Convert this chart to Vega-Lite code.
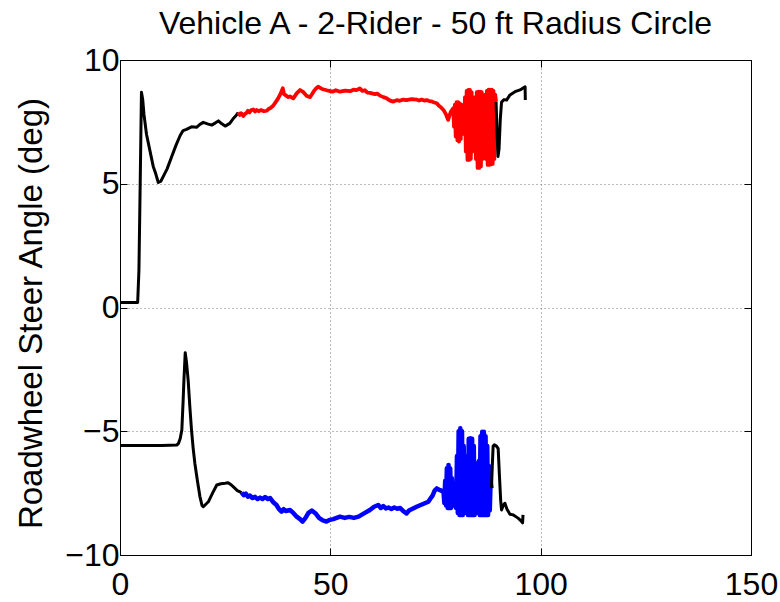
{
"$schema": "https://vega.github.io/schema/vega-lite/v6.json",
"width": 631, "height": 495,
"autosize": {"type": "none"},
"padding": {"left": 120, "top": 60, "right": 29, "bottom": 47},
"background": "white",
"title": {"text": "Vehicle A - 2-Rider - 50 ft Radius Circle", "font": "Liberation Sans", "fontSize": 32, "fontWeight": "normal", "color": "black", "anchor": "middle", "offset": 3},
"config": {
  "view": {"stroke": "black", "strokeWidth": 1},
  "axis": {"domainColor": "black", "domainWidth": 1, "tickColor": "black", "tickSize": -7, "tickWidth": 1, "labelFont": "Liberation Sans", "labelFontSize": 32, "labelColor": "black", "titleFont": "Liberation Sans", "titleFontSize": 33, "titleFontWeight": "normal", "titleColor": "black", "gridColor": "#777777", "gridDash": [1, 3], "gridWidth": 1, "gridOpacity": 1}
},
"data": {"values": [
{"seg":"U1","phase":"transient","x":0,"y":0.2},{"seg":"U1","phase":"transient","x":2,"y":0.2},{"seg":"U1","phase":"transient","x":4.2,"y":0.2},{"seg":"U1","phase":"transient","x":4.5,"y":1.5},{"seg":"U1","phase":"transient","x":4.8,"y":5.0},{"seg":"U1","phase":"transient","x":5.1,"y":8.7},{"seg":"U1","phase":"transient","x":5.4,"y":8.4},{"seg":"U1","phase":"transient","x":5.7,"y":7.8},{"seg":"U1","phase":"transient","x":6.3,"y":7.0},{"seg":"U1","phase":"transient","x":7.1,"y":6.35},{"seg":"U1","phase":"transient","x":7.9,"y":5.7},{"seg":"U1","phase":"transient","x":8.5,"y":5.4},{"seg":"U1","phase":"transient","x":9.1,"y":5.05},{"seg":"U1","phase":"transient","x":9.7,"y":5.1},{"seg":"U1","phase":"transient","x":10.3,"y":5.3},{"seg":"U1","phase":"transient","x":11.2,"y":5.6},{"seg":"U1","phase":"transient","x":12.3,"y":6.1},{"seg":"U1","phase":"transient","x":13.3,"y":6.55},{"seg":"U1","phase":"transient","x":14.3,"y":6.95},{"seg":"U1","phase":"transient","x":15.0,"y":7.15},{"seg":"U1","phase":"transient","x":15.8,"y":7.2},{"seg":"U1","phase":"transient","x":17.0,"y":7.3},{"seg":"U1","phase":"transient","x":18.2,"y":7.28},{"seg":"U1","phase":"transient","x":19.0,"y":7.4},{"seg":"U1","phase":"transient","x":19.8,"y":7.48},{"seg":"U1","phase":"transient","x":20.8,"y":7.42},{"seg":"U1","phase":"transient","x":21.8,"y":7.37},{"seg":"U1","phase":"transient","x":22.6,"y":7.45},{"seg":"U1","phase":"transient","x":23.4,"y":7.54},{"seg":"U1","phase":"transient","x":24.2,"y":7.42},{"seg":"U1","phase":"transient","x":25.0,"y":7.33},{"seg":"U1","phase":"transient","x":26.1,"y":7.44},{"seg":"U1","phase":"transient","x":27.0,"y":7.65},{"seg":"U1","phase":"transient","x":27.7,"y":7.78},{"seg":"U1","phase":"transient","x":28.1,"y":7.88},
{"seg":"U2","phase":"right","x":28.1,"y":7.88},{"seg":"U2","phase":"right","x":28.5,"y":7.78},{"seg":"U2","phase":"right","x":28.8,"y":7.85},{"seg":"U2","phase":"right","x":29.3,"y":7.74},{"seg":"U2","phase":"right","x":29.7,"y":7.82},{"seg":"U2","phase":"right","x":30.0,"y":7.85},{"seg":"U2","phase":"right","x":30.4,"y":7.95},{"seg":"U2","phase":"right","x":30.8,"y":7.88},{"seg":"U2","phase":"right","x":31.2,"y":7.98},{"seg":"U2","phase":"right","x":31.7,"y":8.0},{"seg":"U2","phase":"right","x":32.1,"y":7.92},{"seg":"U2","phase":"right","x":32.5,"y":7.98},{"seg":"U2","phase":"right","x":33.0,"y":7.93},{"seg":"U2","phase":"right","x":33.5,"y":7.98},{"seg":"U2","phase":"right","x":34.2,"y":7.93},{"seg":"U2","phase":"right","x":34.9,"y":7.95},{"seg":"U2","phase":"right","x":35.3,"y":8.02},{"seg":"U2","phase":"right","x":35.7,"y":8.05},{"seg":"U2","phase":"right","x":36.4,"y":8.15},{"seg":"U2","phase":"right","x":37.0,"y":8.3},{"seg":"U2","phase":"right","x":37.6,"y":8.45},{"seg":"U2","phase":"right","x":38.2,"y":8.65},{"seg":"U2","phase":"right","x":38.7,"y":8.86},{"seg":"U2","phase":"right","x":39.0,"y":8.62},{"seg":"U2","phase":"right","x":39.6,"y":8.55},{"seg":"U2","phase":"right","x":40.0,"y":8.5},{"seg":"U2","phase":"right","x":40.4,"y":8.53},{"seg":"U2","phase":"right","x":41.2,"y":8.45},{"seg":"U2","phase":"right","x":42.0,"y":8.65},{"seg":"U2","phase":"right","x":42.8,"y":8.79},{"seg":"U2","phase":"right","x":43.6,"y":8.7},{"seg":"U2","phase":"right","x":44.4,"y":8.55},{"seg":"U2","phase":"right","x":45.2,"y":8.5},{"seg":"U2","phase":"right","x":46.0,"y":8.72},{"seg":"U2","phase":"right","x":46.6,"y":8.85},{"seg":"U2","phase":"right","x":47.1,"y":8.92},{"seg":"U2","phase":"right","x":48.0,"y":8.83},{"seg":"U2","phase":"right","x":48.7,"y":8.8},{"seg":"U2","phase":"right","x":49.5,"y":8.76},{"seg":"U2","phase":"right","x":50.5,"y":8.72},{"seg":"U2","phase":"right","x":51.3,"y":8.78},{"seg":"U2","phase":"right","x":52.3,"y":8.72},{"seg":"U2","phase":"right","x":53.5,"y":8.76},{"seg":"U2","phase":"right","x":54.7,"y":8.74},{"seg":"U2","phase":"right","x":55.5,"y":8.8},{"seg":"U2","phase":"right","x":56.2,"y":8.78},{"seg":"U2","phase":"right","x":57.0,"y":8.85},{"seg":"U2","phase":"right","x":57.6,"y":8.75},{"seg":"U2","phase":"right","x":58.2,"y":8.78},{"seg":"U2","phase":"right","x":58.8,"y":8.68},{"seg":"U2","phase":"right","x":59.4,"y":8.67},{"seg":"U2","phase":"right","x":60.6,"y":8.62},{"seg":"U2","phase":"right","x":61.2,"y":8.64},{"seg":"U2","phase":"right","x":61.8,"y":8.56},{"seg":"U2","phase":"right","x":62.6,"y":8.5},{"seg":"U2","phase":"right","x":63.4,"y":8.45},{"seg":"U2","phase":"right","x":64.2,"y":8.36},{"seg":"U2","phase":"right","x":65.0,"y":8.32},{"seg":"U2","phase":"right","x":65.8,"y":8.38},{"seg":"U2","phase":"right","x":66.5,"y":8.35},{"seg":"U2","phase":"right","x":67.3,"y":8.4},{"seg":"U2","phase":"right","x":68.1,"y":8.38},{"seg":"U2","phase":"right","x":69.3,"y":8.42},{"seg":"U2","phase":"right","x":70.5,"y":8.4},{"seg":"U2","phase":"right","x":71.1,"y":8.36},{"seg":"U2","phase":"right","x":71.7,"y":8.4},{"seg":"U2","phase":"right","x":72.3,"y":8.36},{"seg":"U2","phase":"right","x":72.9,"y":8.38},{"seg":"U2","phase":"right","x":73.5,"y":8.34},{"seg":"U2","phase":"right","x":74.1,"y":8.33},{"seg":"U2","phase":"right","x":74.7,"y":8.28},{"seg":"U2","phase":"right","x":75.3,"y":8.25},{"seg":"U2","phase":"right","x":75.8,"y":8.15},{"seg":"U2","phase":"right","x":76.2,"y":8.1},{"seg":"U2","phase":"right","x":76.9,"y":7.98},{"seg":"U2","phase":"right","x":77.5,"y":7.8},{"seg":"U2","phase":"right","x":78.0,"y":7.58},{"seg":"U2","phase":"right","x":78.6,"y":7.9},{"seg":"U2","phase":"right","x":79.2,"y":8.05},
{"seg":"U2","phase":"right","x":79.4,"y":7.3},{"seg":"U2","phase":"right","x":79.6,"y":8.2},{"seg":"U2","phase":"right","x":79.8,"y":6.9},{"seg":"U2","phase":"right","x":80.0,"y":8.3},{"seg":"U2","phase":"right","x":80.2,"y":6.75},{"seg":"U2","phase":"right","x":80.4,"y":8.3},{"seg":"U2","phase":"right","x":80.6,"y":6.7},{"seg":"U2","phase":"right","x":80.8,"y":8.25},{"seg":"U2","phase":"right","x":81.0,"y":6.8},{"seg":"U2","phase":"right","x":81.2,"y":8.2},{"seg":"U2","phase":"right","x":81.4,"y":7.0},{"seg":"U2","phase":"right","x":81.6,"y":8.1},{"seg":"U2","phase":"right","x":81.8,"y":7.3},{"seg":"U2","phase":"right","x":82.0,"y":8.5},{"seg":"U2","phase":"right","x":82.2,"y":6.3},{"seg":"U2","phase":"right","x":82.4,"y":8.75},{"seg":"U2","phase":"right","x":82.6,"y":5.96},{"seg":"U2","phase":"right","x":82.8,"y":8.79},{"seg":"U2","phase":"right","x":83.0,"y":5.96},{"seg":"U2","phase":"right","x":83.2,"y":8.79},{"seg":"U2","phase":"right","x":83.4,"y":6.0},{"seg":"U2","phase":"right","x":83.6,"y":8.7},{"seg":"U2","phase":"right","x":83.8,"y":6.3},{"seg":"U2","phase":"right","x":84.0,"y":8.4},{"seg":"U2","phase":"right","x":84.2,"y":7.1},{"seg":"U2","phase":"right","x":84.4,"y":8.5},{"seg":"U2","phase":"right","x":84.6,"y":6.0},{"seg":"U2","phase":"right","x":84.8,"y":8.7},{"seg":"U2","phase":"right","x":85.0,"y":5.64},{"seg":"U2","phase":"right","x":85.2,"y":8.72},{"seg":"U2","phase":"right","x":85.4,"y":5.64},{"seg":"U2","phase":"right","x":85.6,"y":8.72},{"seg":"U2","phase":"right","x":85.8,"y":5.7},{"seg":"U2","phase":"right","x":86.0,"y":8.7},{"seg":"U2","phase":"right","x":86.2,"y":6.0},{"seg":"U2","phase":"right","x":86.4,"y":8.5},{"seg":"U2","phase":"right","x":86.6,"y":7.0},{"seg":"U2","phase":"right","x":86.8,"y":8.6},{"seg":"U2","phase":"right","x":87.0,"y":6.0},{"seg":"U2","phase":"right","x":87.2,"y":8.75},{"seg":"U2","phase":"right","x":87.4,"y":5.76},{"seg":"U2","phase":"right","x":87.6,"y":8.8},{"seg":"U2","phase":"right","x":87.8,"y":5.76},{"seg":"U2","phase":"right","x":88.0,"y":8.8},{"seg":"U2","phase":"right","x":88.2,"y":5.78},{"seg":"U2","phase":"right","x":88.4,"y":8.8},{"seg":"U2","phase":"right","x":88.6,"y":5.8},{"seg":"U2","phase":"right","x":88.8,"y":8.75},{"seg":"U2","phase":"right","x":89.0,"y":6.0},{"seg":"U2","phase":"right","x":89.2,"y":8.6},{"seg":"U2","phase":"right","x":89.4,"y":8.3},
{"seg":"U3","phase":"transient","x":89.4,"y":8.3},{"seg":"U3","phase":"transient","x":89.6,"y":7.2},{"seg":"U3","phase":"transient","x":89.85,"y":6.1},{"seg":"U3","phase":"transient","x":90.1,"y":6.4},{"seg":"U3","phase":"transient","x":90.4,"y":7.6},{"seg":"U3","phase":"transient","x":90.7,"y":8.3},{"seg":"U3","phase":"transient","x":91.3,"y":8.4},{"seg":"U3","phase":"transient","x":91.9,"y":8.38},{"seg":"U3","phase":"transient","x":92.7,"y":8.59},{"seg":"U3","phase":"transient","x":93.9,"y":8.72},{"seg":"U3","phase":"transient","x":95.1,"y":8.79},{"seg":"U3","phase":"transient","x":96.3,"y":8.92},{"seg":"U3","phase":"transient","x":96.35,"y":8.38},
{"seg":"L1","phase":"transient","x":0,"y":-5.58},{"seg":"L1","phase":"transient","x":5,"y":-5.58},{"seg":"L1","phase":"transient","x":10,"y":-5.58},{"seg":"L1","phase":"transient","x":13.5,"y":-5.56},{"seg":"L1","phase":"transient","x":13.9,"y":-5.49},{"seg":"L1","phase":"transient","x":14.3,"y":-5.3},{"seg":"L1","phase":"transient","x":14.7,"y":-4.95},{"seg":"L1","phase":"transient","x":15.0,"y":-3.8},{"seg":"L1","phase":"transient","x":15.2,"y":-2.93},{"seg":"L1","phase":"transient","x":15.5,"y":-1.83},{"seg":"L1","phase":"transient","x":15.8,"y":-2.2},{"seg":"L1","phase":"transient","x":16.2,"y":-2.93},{"seg":"L1","phase":"transient","x":16.6,"y":-4.0},{"seg":"L1","phase":"transient","x":17.0,"y":-4.95},{"seg":"L1","phase":"transient","x":17.4,"y":-5.7},{"seg":"L1","phase":"transient","x":17.8,"y":-6.3},{"seg":"L1","phase":"transient","x":18.4,"y":-7.0},{"seg":"L1","phase":"transient","x":19.0,"y":-7.64},{"seg":"L1","phase":"transient","x":19.5,"y":-8.0},{"seg":"L1","phase":"transient","x":19.8,"y":-8.05},{"seg":"L1","phase":"transient","x":20.4,"y":-7.95},{"seg":"L1","phase":"transient","x":21.0,"y":-7.85},{"seg":"L1","phase":"transient","x":22.0,"y":-7.5},{"seg":"L1","phase":"transient","x":23.0,"y":-7.17},{"seg":"L1","phase":"transient","x":24.0,"y":-7.12},{"seg":"L1","phase":"transient","x":25.0,"y":-7.1},{"seg":"L1","phase":"transient","x":25.7,"y":-7.08},{"seg":"L1","phase":"transient","x":26.3,"y":-7.15},{"seg":"L1","phase":"transient","x":26.9,"y":-7.24},{"seg":"L1","phase":"transient","x":27.9,"y":-7.4},{"seg":"L1","phase":"transient","x":28.9,"y":-7.48},
{"seg":"L2","phase":"left","x":28.9,"y":-7.48},{"seg":"L2","phase":"left","x":29.4,"y":-7.58},{"seg":"L2","phase":"left","x":29.9,"y":-7.52},{"seg":"L2","phase":"left","x":30.4,"y":-7.64},{"seg":"L2","phase":"left","x":30.9,"y":-7.6},{"seg":"L2","phase":"left","x":31.5,"y":-7.7},{"seg":"L2","phase":"left","x":32.1,"y":-7.65},{"seg":"L2","phase":"left","x":32.7,"y":-7.74},{"seg":"L2","phase":"left","x":33.3,"y":-7.68},{"seg":"L2","phase":"left","x":33.9,"y":-7.74},{"seg":"L2","phase":"left","x":34.5,"y":-7.66},{"seg":"L2","phase":"left","x":35.1,"y":-7.74},{"seg":"L2","phase":"left","x":35.7,"y":-7.7},{"seg":"L2","phase":"left","x":36.5,"y":-7.88},{"seg":"L2","phase":"left","x":37.2,"y":-7.98},{"seg":"L2","phase":"left","x":37.8,"y":-8.15},{"seg":"L2","phase":"left","x":38.4,"y":-8.25},{"seg":"L2","phase":"left","x":38.9,"y":-8.15},{"seg":"L2","phase":"left","x":39.4,"y":-8.22},{"seg":"L2","phase":"left","x":40.4,"y":-8.18},{"seg":"L2","phase":"left","x":41.2,"y":-8.3},{"seg":"L2","phase":"left","x":42.0,"y":-8.45},{"seg":"L2","phase":"left","x":42.8,"y":-8.55},{"seg":"L2","phase":"left","x":43.4,"y":-8.65},{"seg":"L2","phase":"left","x":44.1,"y":-8.5},{"seg":"L2","phase":"left","x":44.8,"y":-8.3},{"seg":"L2","phase":"left","x":45.6,"y":-8.2},{"seg":"L2","phase":"left","x":46.5,"y":-8.32},{"seg":"L2","phase":"left","x":47.3,"y":-8.5},{"seg":"L2","phase":"left","x":48.2,"y":-8.6},{"seg":"L2","phase":"left","x":49.1,"y":-8.65},{"seg":"L2","phase":"left","x":49.9,"y":-8.58},{"seg":"L2","phase":"left","x":50.7,"y":-8.55},{"seg":"L2","phase":"left","x":51.5,"y":-8.5},{"seg":"L2","phase":"left","x":52.3,"y":-8.45},{"seg":"L2","phase":"left","x":53.4,"y":-8.5},{"seg":"L2","phase":"left","x":54.5,"y":-8.46},{"seg":"L2","phase":"left","x":55.6,"y":-8.5},{"seg":"L2","phase":"left","x":56.7,"y":-8.45},{"seg":"L2","phase":"left","x":58.0,"y":-8.32},{"seg":"L2","phase":"left","x":59.4,"y":-8.18},{"seg":"L2","phase":"left","x":60.4,"y":-8.05},{"seg":"L2","phase":"left","x":61.4,"y":-7.98},{"seg":"L2","phase":"left","x":62.0,"y":-8.1},{"seg":"L2","phase":"left","x":62.6,"y":-8.02},{"seg":"L2","phase":"left","x":63.2,"y":-8.12},{"seg":"L2","phase":"left","x":63.8,"y":-8.08},{"seg":"L2","phase":"left","x":64.5,"y":-8.14},{"seg":"L2","phase":"left","x":65.2,"y":-8.08},{"seg":"L2","phase":"left","x":65.9,"y":-8.13},{"seg":"L2","phase":"left","x":66.6,"y":-8.1},{"seg":"L2","phase":"left","x":67.3,"y":-8.22},{"seg":"L2","phase":"left","x":68.1,"y":-8.32},{"seg":"L2","phase":"left","x":68.7,"y":-8.2},{"seg":"L2","phase":"left","x":69.3,"y":-8.15},{"seg":"L2","phase":"left","x":70.5,"y":-8.05},{"seg":"L2","phase":"left","x":71.2,"y":-8.0},{"seg":"L2","phase":"left","x":71.9,"y":-7.95},{"seg":"L2","phase":"left","x":72.6,"y":-7.9},{"seg":"L2","phase":"left","x":73.3,"y":-7.85},{"seg":"L2","phase":"left","x":73.8,"y":-7.72},{"seg":"L2","phase":"left","x":74.3,"y":-7.6},{"seg":"L2","phase":"left","x":74.8,"y":-7.4},{"seg":"L2","phase":"left","x":75.3,"y":-7.31},{"seg":"L2","phase":"left","x":76.1,"y":-7.38},{"seg":"L2","phase":"left","x":76.9,"y":-7.44},
{"seg":"L2","phase":"left","x":77.1,"y":-7.9},{"seg":"L2","phase":"left","x":77.3,"y":-7.0},{"seg":"L2","phase":"left","x":77.5,"y":-8.0},{"seg":"L2","phase":"left","x":77.7,"y":-6.5},{"seg":"L2","phase":"left","x":77.9,"y":-8.1},{"seg":"L2","phase":"left","x":78.1,"y":-6.36},{"seg":"L2","phase":"left","x":78.3,"y":-8.1},{"seg":"L2","phase":"left","x":78.5,"y":-6.5},{"seg":"L2","phase":"left","x":78.7,"y":-8.1},{"seg":"L2","phase":"left","x":78.9,"y":-6.9},{"seg":"L2","phase":"left","x":79.1,"y":-8.0},{"seg":"L2","phase":"left","x":79.3,"y":-7.4},{"seg":"L2","phase":"left","x":79.5,"y":-8.0},{"seg":"L2","phase":"left","x":79.7,"y":-7.6},{"seg":"L2","phase":"left","x":79.9,"y":-8.1},{"seg":"L2","phase":"left","x":80.1,"y":-6.0},{"seg":"L2","phase":"left","x":80.3,"y":-8.3},{"seg":"L2","phase":"left","x":80.5,"y":-5.0},{"seg":"L2","phase":"left","x":80.7,"y":-8.38},{"seg":"L2","phase":"left","x":80.9,"y":-4.88},{"seg":"L2","phase":"left","x":81.1,"y":-8.38},{"seg":"L2","phase":"left","x":81.3,"y":-5.0},{"seg":"L2","phase":"left","x":81.5,"y":-8.38},{"seg":"L2","phase":"left","x":81.7,"y":-5.6},{"seg":"L2","phase":"left","x":81.9,"y":-8.3},{"seg":"L2","phase":"left","x":82.1,"y":-7.2},{"seg":"L2","phase":"left","x":82.3,"y":-8.2},{"seg":"L2","phase":"left","x":82.5,"y":-6.0},{"seg":"L2","phase":"left","x":82.7,"y":-8.38},{"seg":"L2","phase":"left","x":82.9,"y":-5.3},{"seg":"L2","phase":"left","x":83.1,"y":-8.38},{"seg":"L2","phase":"left","x":83.3,"y":-5.28},{"seg":"L2","phase":"left","x":83.5,"y":-8.38},{"seg":"L2","phase":"left","x":83.7,"y":-5.3},{"seg":"L2","phase":"left","x":83.9,"y":-8.38},{"seg":"L2","phase":"left","x":84.1,"y":-5.6},{"seg":"L2","phase":"left","x":84.3,"y":-8.38},{"seg":"L2","phase":"left","x":84.5,"y":-6.3},{"seg":"L2","phase":"left","x":84.7,"y":-8.3},{"seg":"L2","phase":"left","x":84.9,"y":-7.5},{"seg":"L2","phase":"left","x":85.1,"y":-8.2},{"seg":"L2","phase":"left","x":85.3,"y":-6.2},{"seg":"L2","phase":"left","x":85.5,"y":-8.38},{"seg":"L2","phase":"left","x":85.7,"y":-5.2},{"seg":"L2","phase":"left","x":85.9,"y":-8.38},{"seg":"L2","phase":"left","x":86.1,"y":-5.02},{"seg":"L2","phase":"left","x":86.3,"y":-8.38},{"seg":"L2","phase":"left","x":86.5,"y":-5.02},{"seg":"L2","phase":"left","x":86.7,"y":-8.38},{"seg":"L2","phase":"left","x":86.9,"y":-5.2},{"seg":"L2","phase":"left","x":87.1,"y":-8.38},{"seg":"L2","phase":"left","x":87.3,"y":-5.6},{"seg":"L2","phase":"left","x":87.5,"y":-8.38},{"seg":"L2","phase":"left","x":87.7,"y":-6.4},{"seg":"L2","phase":"left","x":87.9,"y":-8.2},{"seg":"L2","phase":"left","x":88.1,"y":-7.0},{"seg":"L2","phase":"left","x":88.3,"y":-7.3},
{"seg":"L3","phase":"transient","x":88.3,"y":-7.3},{"seg":"L3","phase":"transient","x":88.5,"y":-6.4},{"seg":"L3","phase":"transient","x":88.7,"y":-5.6},{"seg":"L3","phase":"transient","x":89.0,"y":-5.55},{"seg":"L3","phase":"transient","x":89.5,"y":-5.6},{"seg":"L3","phase":"transient","x":89.9,"y":-5.7},{"seg":"L3","phase":"transient","x":90.2,"y":-6.8},{"seg":"L3","phase":"transient","x":90.5,"y":-7.8},{"seg":"L3","phase":"transient","x":90.7,"y":-8.18},{"seg":"L3","phase":"transient","x":91.1,"y":-8.0},{"seg":"L3","phase":"transient","x":91.5,"y":-7.91},{"seg":"L3","phase":"transient","x":92.0,"y":-8.15},{"seg":"L3","phase":"transient","x":92.7,"y":-8.35},{"seg":"L3","phase":"transient","x":93.5,"y":-8.38},{"seg":"L3","phase":"transient","x":94.1,"y":-8.45},{"seg":"L3","phase":"transient","x":94.7,"y":-8.52},{"seg":"L3","phase":"transient","x":95.2,"y":-8.6},{"seg":"L3","phase":"transient","x":95.7,"y":-8.7},{"seg":"L3","phase":"transient","x":95.8,"y":-8.38}
]},
"layer": [
  {
    "mark": {"type": "line", "strokeJoin": "round", "strokeCap": "butt"},
    "encoding": {
      "x": {"field": "x", "type": "quantitative", "scale": {"domain": [0, 150], "nice": false, "zero": false}, "axis": {"orient": "bottom", "values": [0, 50, 100, 150], "title": null, "grid": true, "labelPadding": 21, "labelFlush": false}},
      "y": {"field": "y", "type": "quantitative", "scale": {"domain": [-10, 10], "nice": false}, "axis": {"orient": "left", "values": [-10, -5, 0, 5, 10], "labelExpr": "replace(datum.label, '-', '−')", "title": "Roadwheel Steer Angle (deg)", "grid": true, "labelPadding": 8, "titleAngle": -90, "titleX": -79, "titleY": 253, "titleAlign": "center", "titleBaseline": "alphabetic"}},
      "detail": {"field": "seg", "type": "nominal"},
      "color": {"field": "phase", "type": "nominal", "scale": {"domain": ["transient", "right", "left"], "range": ["#000000", "#ff0000", "#0000ff"]}, "legend": null},
      "strokeWidth": {"field": "phase", "type": "nominal", "scale": {"domain": ["transient", "right", "left"], "range": [3, 4.5, 4.5]}, "legend": null}
    }
  },
  {
    "mark": {"type": "line", "strokeOpacity": 0},
    "encoding": {
      "x": {"field": "x", "type": "quantitative", "axis": {"orient": "top", "values": [0, 50, 100, 150], "labels": false, "title": null, "grid": false}},
      "y": {"field": "y", "type": "quantitative", "axis": {"orient": "right", "values": [-10, -5, 0, 5, 10], "labels": false, "title": null, "grid": false}},
      "detail": {"field": "seg", "type": "nominal"}
    }
  }
]
}
